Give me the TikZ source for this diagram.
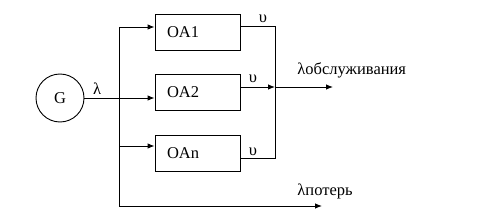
\documentclass[tikz,border=0pt]{standalone}
\usepackage{fontspec}
\setmainfont{Liberation Serif}
\usetikzlibrary{positioning,arrows.meta,calc}

\begin{document}
\begin{tikzpicture}[
  x=1pt,y=-1pt,
  font=\fontsize{16.5}{19}\selectfont,
  line width=0.9pt,
  oa/.style={draw,rectangle,minimum height=36pt,text width=61pt,
             inner xsep=12pt,align=left},
  src/.style={draw,circle,minimum size=48pt,inner sep=0pt},
  ar/.style={-{Latex[length=7pt,width=5.5pt]}},
  lab/.style={inner sep=0pt,anchor=base},
]
\useasboundingbox (0,0) rectangle (492,219);
\node[src] (gen) at (60,98) {G};
\node[oa] (oa1) at (197.5,32) {OA1};
\node[oa] (oa2) at (197.5,92) {OA2};
\node[oa] (oan) at (197.5,153) {OAn};
% split and join points
\coordinate (s1) at (119,27);
\coordinate (s2) at (119,98);
\coordinate (sn) at (119,146);
\coordinate (s0) at (119,206);
\coordinate (m1) at (275,26);
\coordinate (m2) at (275,87);
\coordinate (mn) at (275,158);
\coordinate (out) at (333,87);
\coordinate (lost) at (322,206);
\draw (gen.east) -- (s2);
\draw (s1) -- (s0);
\draw[ar] (s1) -- (s1 -| oa1.west);
\draw[ar] (s2) -- (s2 -| oa2.west);
\draw[ar] (sn) -- (sn -| oan.west);
\draw (m1 -| oa1.east) -- (m1) -- (mn) -- (mn -| oan.east);
\draw[ar] (m2 -| oa2.east) -- (m2);
\draw[ar] (m2) -- (out);
\draw[ar] (s0) -- (lost);
% labels
\node[lab] (l0) at (97,95) {λ};
\node[lab] (u1) at (263,23) {υ};
\node[lab] (u2) at (253,83) {υ};
\node[lab] (un) at (253,155) {υ};
\node[lab,anchor=base west] (lserv) at (297,75) {λобслуживания};
\node[lab,anchor=base west] (lloss) at (297,195) {λпотерь};
\end{tikzpicture}
\end{document}
